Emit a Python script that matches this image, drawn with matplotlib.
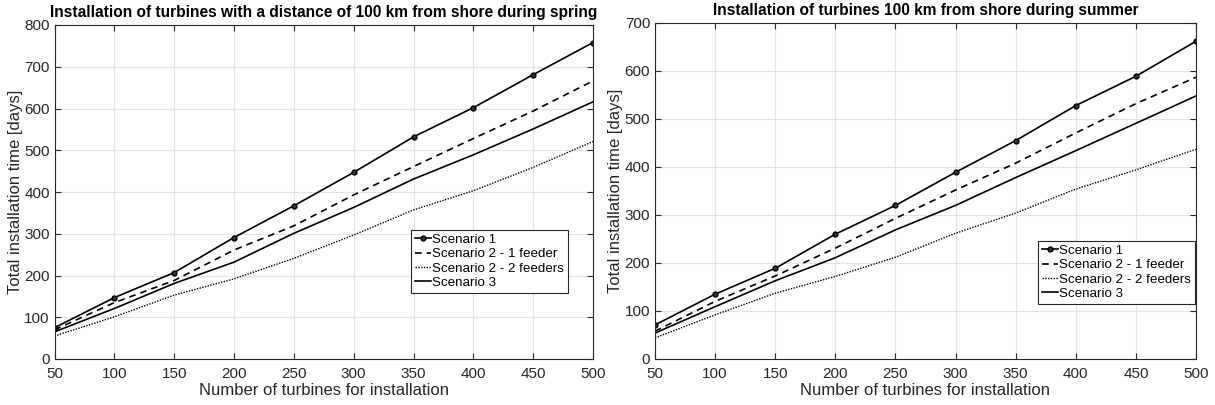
import matplotlib
matplotlib.use("Agg")
import matplotlib.pyplot as plt

plt.rcParams["font.family"] = ["Liberation Sans", "DejaVu Sans"]

turbines = [50, 100, 150, 200, 250, 300, 350, 400, 450, 500]

# spring
spring_s1 = [75, 147, 207, 291, 367, 447, 532, 602, 681, 758]
spring_s2_1 = [70, 135, 188, 261, 319, 393, 461, 528, 594, 666]
spring_s2_2 = [55, 101, 153, 192, 241, 297, 357, 403, 459, 521]
spring_s3 = [65, 121, 181, 232, 301, 363, 431, 489, 551, 616]

# summer
summer_s1 = [71, 135, 189, 260, 320, 389, 455, 528, 589, 662]
summer_s2_1 = [58, 120, 173, 231, 293, 352, 408, 471, 532, 587]
summer_s2_2 = [44, 92, 137, 172, 212, 262, 304, 354, 394, 437]
summer_s3 = [54, 109, 163, 211, 269, 320, 378, 434, 491, 548]

labels = ["Scenario 1", "Scenario 2 - 1 feeder", "Scenario 2 - 2 feeders", "Scenario 3"]


def draw(ax, s1, s21, s22, s3, ymax, title, legend_box):
    ax.plot(turbines, s1, "-o", color="black", lw=1.2, ms=3.5,
            mfc="#333333", mec="black", label=labels[0])
    ax.plot(turbines, s21, color="black", lw=1.2, ls=(0, (4, 3)), label=labels[1])
    ax.plot(turbines, s22, color="black", lw=1.0, ls=(0, (1, 1)), label=labels[2])
    ax.plot(turbines, s3, color="black", lw=1.2, label=labels[3])
    ax.set_xlim(50, 500)
    ax.set_ylim(0, ymax)
    ax.set_xticks(turbines)
    ax.set_yticks(range(0, ymax + 1, 100))
    ax.grid(True, color="#e3e3e3", lw=0.8)
    ax.set_axisbelow(True)
    ax.tick_params(direction="in", labelsize=11, colors="#262626", length=4,
                   top=True, right=True)
    ax.tick_params(axis="x", pad=6)
    for sp in ax.spines.values():
        sp.set_color("#262626")
        sp.set_linewidth(0.8)
    ax.set_xlabel("Number of turbines for installation", fontsize=12,
                  color="#262626", labelpad=1)
    ax.set_ylabel("Total installation time [days]", fontsize=12,
                  color="#262626", labelpad=1)
    ax.set_title(title, fontsize=11.2, fontweight="bold", pad=6)
    leg = ax.legend(loc="lower left", bbox_to_anchor=legend_box, fontsize=9.6,
                    handlelength=1.2, handletextpad=0.1, borderpad=0.3,
                    labelspacing=0.15, borderaxespad=0, fancybox=False,
                    framealpha=1)
    leg.get_frame().set_edgecolor("#262626")
    leg.get_frame().set_linewidth(0.8)


fig = plt.figure(figsize=(12.15, 4.05), dpi=100)
ax1 = fig.add_axes([54.5 / 1215, 46 / 405, 538.5 / 1215, 334 / 405])
ax2 = fig.add_axes([655 / 1215, 46 / 405, 541 / 1215, 336 / 405])

draw(ax1, spring_s1, spring_s2_1, spring_s2_2, spring_s3, 800,
     "Installation of turbines with a distance of 100 km from shore during spring",
     (0.662, 0.198))
draw(ax2, summer_s1, summer_s2_1, summer_s2_2, summer_s3, 700,
     "Installation of turbines 100 km from shore during summer",
     (0.708, 0.164))

fig.savefig("out.png", dpi=100)
